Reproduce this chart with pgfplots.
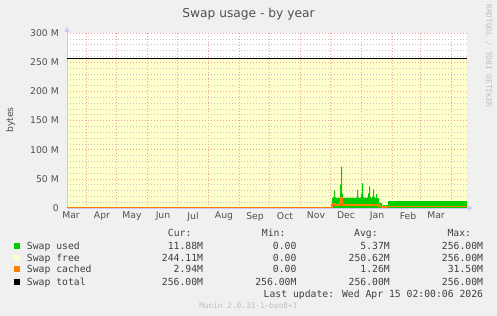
\documentclass[border=0pt]{standalone}
\usepackage{fontspec}
\usepackage{pgfplots}
\pgfplotsset{compat=1.18}
\usetikzlibrary{arrows.meta}
\setmainfont{DejaVu Sans}
\newfontfamily\mono{DejaVu Sans Mono}
\definecolor{bgc}{HTML}{F0F0F0}
\definecolor{usedc}{HTML}{00CC00}
\definecolor{freec}{HTML}{FFFFCC}
\definecolor{cachedc}{HTML}{FF8000}
\definecolor{axc}{HTML}{C8C8F8}
\definecolor{mgrid}{HTML}{F0A0A0}
\definecolor{gridc}{HTML}{C4C4C4}
\definecolor{txt}{HTML}{505050}
\definecolor{leg}{HTML}{404040}
\definecolor{wm}{HTML}{C0C0C0}
\begin{document}
\begin{tikzpicture}
\fill[bgc] (0,0) rectangle (497bp,316bp);
\begin{axis}[
  at={(67bp,108bp)}, anchor=south west,
  scale only axis, width=400bp, height=175bp,
  xmin=0, xmax=400, ymin=0, ymax=300,
  axis x line=bottom, axis y line=left,
  axis line style={draw=axc, line width=0.8bp},
  x axis line style={-{Triangle[length=5bp,width=5bp]}, shorten >=-6bp},
  y axis line style={-{Triangle[length=5bp,width=5bp]}, shorten >=-6bp},
  % free area (yellow) up to the 256M total, white above it
  axis background/.style={fill=freec, path picture={
      \fill[white] (path picture bounding box.north west) rectangle
        ([yshift=-25.67bp]path picture bounding box.north east);}},
  xtick={4,35,65,96,126,157,188,218,249,279,310,341,369},
  xticklabels={Mar,Apr,May,Jun,Jul,Aug,Sep,Oct,Nov,Dec,Jan,Feb,Mar},
  minor xtick={19,49,80,110,141,172,202,233,263,294,325,353,384},
  ytick={0,50,100,150,200,250,300},
  yticklabels={0,50 M,100 M,150 M,200 M,250 M,300 M},
  minor ytick={10,20,30,40,60,70,80,90,110,120,130,140,160,170,180,190,210,220,230,240,260,270,280,290},
  xminorgrids=true, ymajorgrids=true, yminorgrids=true, xmajorgrids=false,
  minor x grid style={draw=mgrid, dash pattern=on 1bp off 2bp, line width=0.6bp},
  major y grid style={draw=mgrid, dash pattern=on 1bp off 2bp, line width=0.6bp},
  minor y grid style={draw=gridc, dash pattern=on 1bp off 2bp, line width=0.6bp},
  major tick length=0pt, minor tick length=0pt,
  tick label style={font=\fontsize{9.3}{11}\selectfont, text=txt},
  xticklabel style={anchor=north, inner sep=0pt, yshift=-4bp},
  yticklabel style={anchor=east, inner sep=0pt, xshift=-8bp},
]
% Swap used
\addplot[const plot, draw=none, fill=usedc] coordinates {
(0,0) (265,17) (266,19) (267,30) (268,18) (269,17) (270,17) (271,18) (272,17)
(273,40) (274,71) (275,24) (276,17) (277,18) (278,17) (279,17) (280,18) (281,17)
(282,17) (283,18) (284,17) (285,17) (286,18) (287,17) (288,17) (289,18) (290,31)
(291,18) (292,17) (293,18) (294,24) (295,42) (296,19) (297,17) (298,18) (299,17)
(300,18) (301,25) (302,37) (303,18) (304,17) (305,20) (306,32) (307,18) (308,17)
(309,24) (310,17) (311,17) (312,8) (313,9) (314,8) (315,0) (316,5) (317,5) (318,4)
(319,5) (320,5) (321,11.9) (400,11.9)
} \closedcycle;
% Swap cached
\addplot[const plot, draw=cachedc, line width=1.2bp] coordinates {
(0,0) (265,6) (266,8) (267,7) (268,5) (273,10) (274,18) (275,7) (276,5)
(290,6) (291,5) (295,6) (296,5) (302,6) (303,5) (312,3) (313,2) (315,0)
(316,2) (317,1) (319,2) (321,2.94) (400,2.94)
};
% Swap total
\addplot[draw=black, line width=1.5bp] coordinates {(0,256) (400,256)};
\end{axis}
% title, labels, watermark
\node[anchor=base, text=txt, font=\fontsize{12.3}{14}\selectfont] at (248.5bp,298.7bp) {Swap usage - by year};
\node[rotate=90, text=txt, font=\fontsize{9.3}{11}\selectfont] at (10.5bp,196bp) {bytes};
\node[rotate=-90, text=wm, font=\mono\fontsize{7.8}{9}\selectfont] at (488.7bp,260bp) {RRDTOOL / TOBI OETIKER};
% legend
\fill[usedc] (14bp,67.4bp) rectangle (20bp,73.4bp);
\fill[freec] (14bp,55.4bp) rectangle (20bp,61.4bp);
\fill[cachedc] (14bp,43.6bp) rectangle (20bp,49.6bp);
\fill[black] (14bp,31.4bp) rectangle (20bp,37.4bp);
\begin{scope}[every node/.style={text=leg, font=\mono\fontsize{9.8}{11}\selectfont, inner sep=0pt}]
\node[anchor=base west] at (167.7bp,79.3bp) {Cur:};
\node[anchor=base west] at (261.7bp,79.3bp) {Min:};
\node[anchor=base west] at (354bp,79.3bp) {Avg:};
\node[anchor=base west] at (447.3bp,79.3bp) {Max:};
\node[anchor=base west] at (26.7bp,66.8bp) {Swap used};
\node[anchor=base west] at (26.7bp,54.8bp) {Swap free};
\node[anchor=base west] at (26.7bp,43.0bp) {Swap cached};
\node[anchor=base west] at (26.7bp,30.8bp) {Swap total};
\node[anchor=base east] at (203.3bp,66.8bp) {11.88M};
\node[anchor=base east] at (296.7bp,66.8bp) {0.00};
\node[anchor=base east] at (390bp,66.8bp) {5.37M};
\node[anchor=base east] at (483.3bp,66.8bp) {256.00M};
\node[anchor=base east] at (203.3bp,54.8bp) {244.11M};
\node[anchor=base east] at (296.7bp,54.8bp) {0.00};
\node[anchor=base east] at (390bp,54.8bp) {250.62M};
\node[anchor=base east] at (483.3bp,54.8bp) {256.00M};
\node[anchor=base east] at (203.3bp,43.0bp) {2.94M};
\node[anchor=base east] at (296.7bp,43.0bp) {0.00};
\node[anchor=base east] at (390bp,43.0bp) {1.26M};
\node[anchor=base east] at (483.3bp,43.0bp) {31.50M};
\node[anchor=base east] at (203.3bp,30.8bp) {256.00M};
\node[anchor=base east] at (296.7bp,30.8bp) {256.00M};
\node[anchor=base east] at (390bp,30.8bp) {256.00M};
\node[anchor=base east] at (483.3bp,30.8bp) {256.00M};
\node[anchor=base east] at (483.3bp,18.4bp) {Last update: Wed Apr 15 02:00:06 2026};
\end{scope}
\node[anchor=base, text=wm, inner sep=0pt, font=\mono\fontsize{7.8}{9}\selectfont] at (248.4bp,7.4bp) {Munin 2.0.33-1\textasciitilde bpo8+1};
\pgfresetboundingbox
\useasboundingbox (0,0) rectangle (497bp,316bp);
\end{tikzpicture}
\end{document}
